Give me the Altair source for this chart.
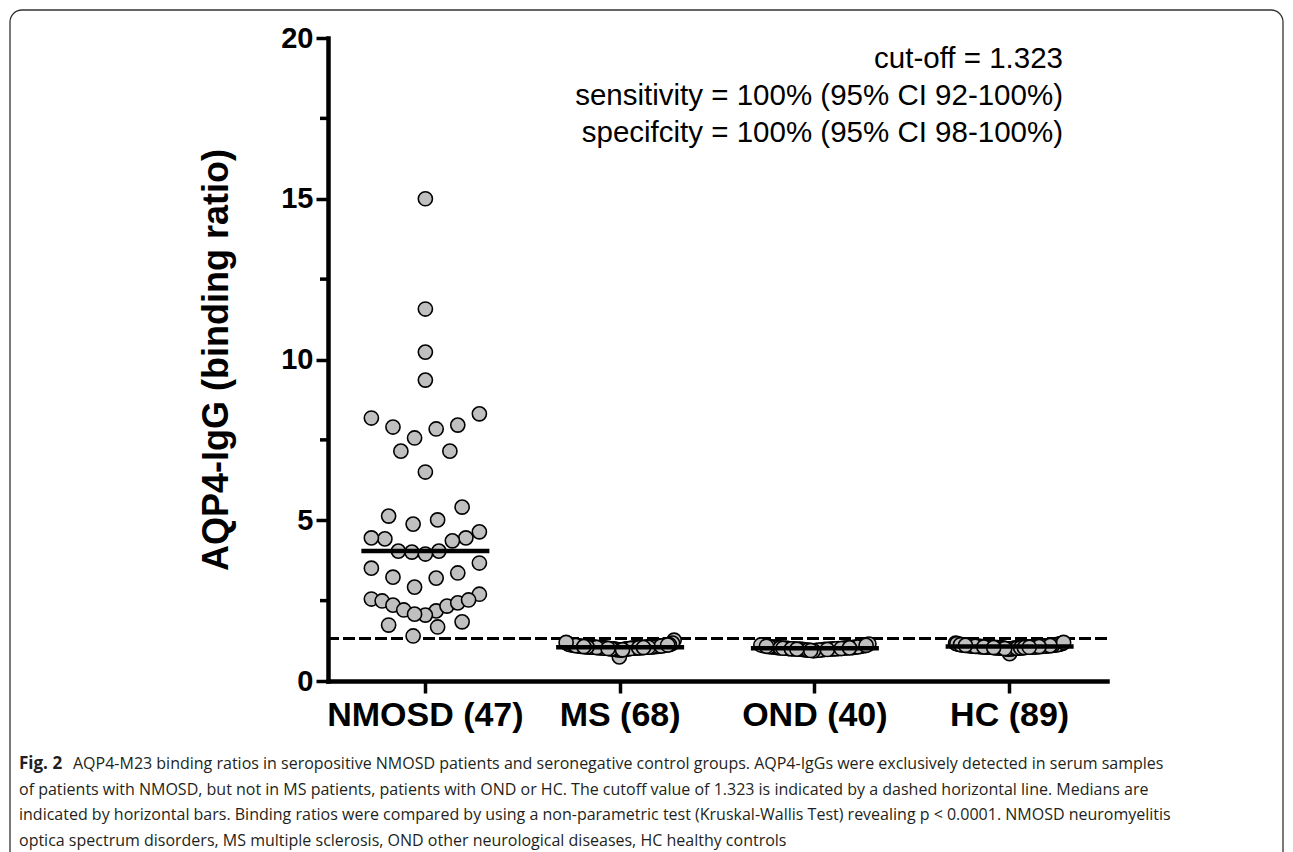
import math
import numpy as np
import pandas as pd
import altair as alt

# ---------------- data ----------------
groups = ["NMOSD (47)", "MS (68)", "OND (40)", "HC (89)"]

nmosd = [15.0, 11.57, 10.23, 9.36, 8.18, 7.90, 7.56, 7.84, 7.96, 8.31,
         7.15, 7.15, 6.50, 5.41, 5.13, 5.01, 4.88, 4.45, 4.42, 4.64,
         4.45, 4.36, 4.04, 4.01, 3.95, 4.04, 3.67, 3.51, 3.36, 3.20,
         3.23, 2.92, 2.70, 2.55, 2.49, 2.36, 2.21, 2.18, 2.33, 2.43,
         2.52, 2.05, 2.08, 1.74, 1.68, 1.84, 1.40]

ms = [0.75, 1.27, 1.05, 1.08, 1.02, 1.10, 0.98, 1.12, 1.04, 1.06,
      1.00, 1.15, 1.03, 1.07, 0.97, 1.09, 1.11, 1.01, 1.05, 1.13,
      0.99, 1.06, 1.04, 1.08, 1.02, 1.16, 1.00, 1.07, 1.03, 1.10,
      0.96, 1.05, 1.09, 1.01, 1.12, 1.04, 1.06, 0.98, 1.14, 1.03,
      1.08, 1.02, 1.05, 1.11, 0.99, 1.07, 1.04, 1.18, 1.01, 1.06,
      1.03, 1.09, 1.00, 1.05, 1.13, 1.02, 1.08, 0.97, 1.04, 1.10,
      1.06, 1.03, 1.07, 1.01, 1.05, 1.12, 1.04, 1.20]

ond = [1.02, 0.98, 1.05, 0.95, 1.08, 1.00, 1.03, 0.97, 1.10, 1.01,
       0.99, 1.06, 0.96, 1.04, 1.12, 1.00, 0.94, 1.07, 1.02, 0.98,
       1.05, 1.01, 0.97, 1.09, 1.03, 0.99, 1.15, 1.00, 0.96, 1.04,
       1.02, 1.08, 0.98, 1.01, 1.06, 0.95, 1.03, 1.00, 1.11, 0.99]

hc = [0.85, 1.05, 1.08, 1.02, 1.12, 1.06, 1.10, 1.03, 1.15, 1.07,
      1.04, 1.09, 1.01, 1.13, 1.06, 1.08, 1.00, 1.11, 1.05, 1.17,
      1.03, 1.07, 1.10, 1.02, 1.14, 1.06, 1.09, 1.04, 1.12, 1.01,
      1.08, 1.05, 1.16, 1.03, 1.07, 1.11, 0.99, 1.06, 1.13, 1.04,
      1.09, 1.02, 1.10, 1.07, 1.05, 1.18, 1.03, 1.08, 1.12, 1.06,
      1.01, 1.14, 1.04, 1.09, 1.07, 1.11, 1.02, 1.06, 1.15, 1.05,
      1.08, 1.03, 1.10, 1.00, 1.13, 1.06, 1.09, 1.04, 1.12, 1.07,
      1.05, 1.11, 1.02, 1.16, 1.08, 1.06, 1.03, 1.10, 1.07, 1.04,
      1.09, 1.13, 1.05, 1.01, 1.08, 1.06, 1.20, 1.04, 1.11]

cutoff = 1.323
y_major = [0, 5, 10, 15, 20]
y_minor = [2.5, 7.5, 12.5, 17.5]

annotation = ["cut-off = 1.323",
              "sensitivity = 100% (95% CI 92-100%)",
              "specifcity = 100% (95% CI 98-100%)"]

caption_lead = "Fig. 2"
caption_first = ("AQP4-M23 binding ratios in seropositive NMOSD patients and seronegative "
                 "control groups. AQP4-IgGs were exclusively detected in serum samples")
caption_rest = [
    "of patients with NMOSD, but not in MS patients, patients with OND or HC. The cutoff value "
    "of 1.323 is indicated by a dashed horizontal line. Medians are",
    "indicated by horizontal bars. Binding ratios were compared by using a non-parametric test "
    "(Kruskal-Wallis Test) revealing p < 0.0001. NMOSD neuromyelitis",
    "optica spectrum disorders, MS multiple sclerosis, OND other neurological diseases, HC healthy controls",
]

# ---------------- layout ----------------
W, H = 779, 643
ROW_SPAN = 0.76      # a scatter row holds values within this range (data units)
GAP = 24.5           # preferred spacing of points within a row (px)
HALF = 54.0          # maximal half width of a row (px)


def rows_layout(vals):
    """Prism-like scatter: values binned in rows; within a row the lowest
    value sits in the centre and larger values alternate outwards."""
    order = sorted(range(len(vals)), key=lambda i: -vals[i])
    rows, cur = [], []
    for i in order:
        if cur and vals[cur[0]] - vals[i] > ROW_SPAN:
            rows.append(cur)
            cur = []
        cur.append(i)
    if cur:
        rows.append(cur)
    offs = [0.0] * len(vals)
    for row in rows:
        n = len(row)
        if n == 1:
            offs[row[0]] = 0.0
            continue
        s = min(GAP, 2 * HALF / (n - 1))
        slots = [(k - (n - 1) / 2.0) * s for k in range(n)]
        # centre-out slot order, left first
        c = (n - 1) // 2
        slot_order = [c]
        step = 1
        while len(slot_order) < n:
            for cand in ((c + step, c - step) if n % 2 == 0 else (c - step, c + step)):
                if 0 <= cand < n and len(slot_order) < n:
                    slot_order.append(cand)
            step += 1
        asc = sorted(row, key=lambda i: vals[i])
        for idx, slot in zip(asc, slot_order):
            offs[idx] = slots[slot]
    return offs


series = [nmosd, ms, ond, hc]
recs = []
for g, vals in zip(groups, series):
    for v, o in zip(vals, rows_layout(vals)):
        recs.append({"group": g, "value": v, "dx": o})
pts = pd.DataFrame(recs)
meds = pd.DataFrame({"group": groups, "value": [float(np.median(v)) for v in series]})
minor = pd.DataFrame({"value": y_minor})

ARIAL = "'Liberation Sans', Arial, Helvetica, sans-serif"
CAP_FONT = "'Open Sans', 'Noto Sans', sans-serif"

x_enc = alt.X("group:N", sort=groups,
              scale=alt.Scale(type="band", paddingInner=0, paddingOuter=0),
              axis=alt.Axis(title=None, labelAngle=0, labelFont=ARIAL,
                            labelFontWeight="bold", labelFontSize=34, labelColor="black",
                            labelLimit=0, labelPadding=5, tickSize=12, tickWidth=3.5,
                            tickColor="black", domainWidth=4.5, domainColor="black",
                            domainCap="square", labelBaseline="top"))

y_scale = alt.Scale(domain=[0, 20], nice=False, zero=True)
y_enc = alt.Y("value:Q", scale=y_scale,
              axis=alt.Axis(values=y_major, grid=False, tickSize=12, tickWidth=3.5,
                            tickColor="black", domainWidth=4.5, domainColor="black",
                            domainCap="square",
                            labelFont=ARIAL, labelFontWeight="bold", labelFontSize=29,
                            labelColor="black", labelPadding=3,
                            title="AQP4-IgG (binding ratio)", titleFont=ARIAL,
                            titleFontWeight="bold", titleFontSize=36, titleColor="black",
                            titleAngle=270, titleX=-112, titleY=H / 2,
                            titleAlign="center", titleBaseline="middle", titleLimit=0))

points = alt.Chart(pts).mark_circle(size=200, opacity=1, fill="#c0c0c0",
                                    stroke="black", strokeWidth=1.6).encode(
    x=x_enc,
    xOffset=alt.XOffset("dx:Q", scale=alt.Scale(domain=[-W / 8, W / 8])),
    y=y_enc,
)

medians = alt.Chart(meds).mark_tick(size=128, thickness=4.5, color="black",
                                    opacity=1).encode(x=x_enc, y=y_enc)

cut_line = alt.Chart(pd.DataFrame({"value": [cutoff]})).mark_rule(
    color="black", strokeWidth=3, strokeDash=[12, 4]).encode(y=y_enc)

minor_ticks = alt.Chart(minor).mark_rule(color="black", strokeWidth=3.5).encode(
    y=y_enc, x=alt.value(-8), x2=alt.value(0))

frame = alt.Chart(pd.DataFrame({"k": [0]})).mark_rect(
    fill="white", fillOpacity=0, stroke="#333333", strokeWidth=1.3, cornerRadius=12
).encode(x=alt.value(-318), x2=alt.value(955), y=alt.value(-28), y2=alt.value(H + 300))

annot = alt.Chart(pd.DataFrame({"t": ["\n".join(annotation)]})).mark_text(
    align="right", baseline="alphabetic", font=ARIAL, fontSize=29.5, color="black",
    lineBreak="\n", lineHeight=37
).encode(x=alt.value(735), y=alt.value(30), text="t:N")

cap_lead = alt.Chart(pd.DataFrame({"t": [caption_lead]})).mark_text(
    align="left", baseline="alphabetic", font=CAP_FONT, fontSize=17, fontWeight="bold",
    color="#231f20").encode(x=alt.value(-309), y=alt.value(731), text="t:N")

cap_first = alt.Chart(pd.DataFrame({"t": [caption_first]})).mark_text(
    align="left", baseline="alphabetic", font=CAP_FONT, fontSize=16,
    color="#231f20").encode(x=alt.value(-255), y=alt.value(731), text="t:N")

cap_rest = alt.Chart(pd.DataFrame({"t": ["\n".join(caption_rest)]})).mark_text(
    align="left", baseline="alphabetic", font=CAP_FONT, fontSize=16,
    color="#231f20", lineBreak="\n", lineHeight=25.5
).encode(x=alt.value(-309), y=alt.value(756.5), text="t:N")

chart = alt.layer(
    frame, cut_line, minor_ticks, points, medians, annot, cap_lead, cap_first, cap_rest
).properties(
    width=W, height=H,
    autosize=alt.AutoSizeParams(type="none"),
    padding={"left": 320, "top": 30, "right": 178, "bottom": 177},
).configure_view(stroke=None)

chart.save("out.html", embed_options={"renderer": "svg", "actions": False})
